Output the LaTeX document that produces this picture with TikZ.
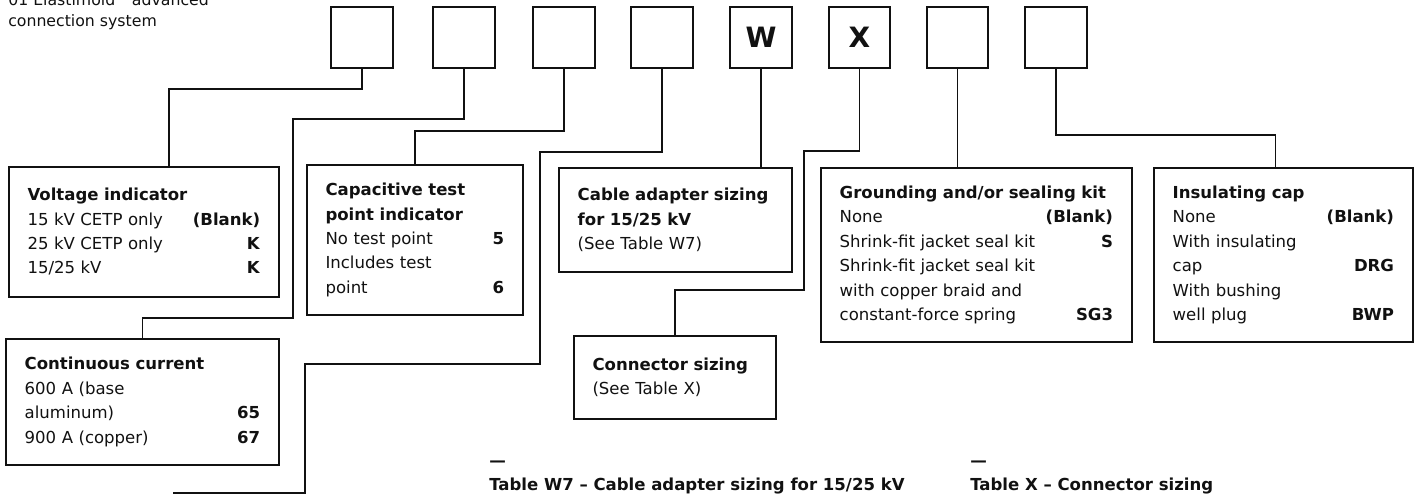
\documentclass[tikz,border=0pt]{standalone}
\usepackage{fontspec}
\setmainfont{DejaVu Sans}
\usetikzlibrary{calc}
\definecolor{inkblack}{HTML}{111111}

\newcommand{\bodyfont}{\fontsize{12.4pt}{18.3pt}\selectfont}
\newcommand{\titlefont}{\fontsize{11.8pt}{15.75pt}\selectfont}
\newcommand{\slotfont}{\fontsize{21pt}{21pt}\selectfont\bfseries}
\newcommand{\optrow}[2]{#1\hfill\textbf{#2}}

\begin{document}
\begin{tikzpicture}[
    x=0.75pt, y=-0.75pt,
    every node/.style={text=inkblack, font=\bodyfont},
    slot/.style={draw=inkblack, line width=1.3pt, minimum width=46pt,
      minimum height=45.75pt, inner sep=0pt, font=\slotfont},
    optbox/.style={draw=inkblack, line width=1.3pt, anchor=north west,
      align=left, inner xsep=14pt, inner ysep=0pt},
    link/.style={draw=inkblack, line width=1.1pt},
    caption/.style={anchor=base west, inner sep=0pt, font=\bodyfont\bfseries},
  ]

  \useasboundingbox (0,0) rectangle (1421,497);

  % ===== Series name =====
  \node[anchor=south west, inner sep=0pt, align=left, font=\titlefont]
    (series) at (8,30) {01 Elastimold\textsuperscript{®} advanced\\connection system};

  % ===== Catalog number slots =====
  \node[slot] (s1) at (362,37.5) {};
  \node[slot] (s2) at (464,37.5) {};
  \node[slot] (s3) at (564,37.5) {};
  \node[slot] (s4) at (662,37.5) {};
  \node[slot] (sW) at (761,37.5) {W};
  \node[slot] (sX) at (859.5,37.5) {X};
  \node[slot] (s7) at (957.5,37.5) {};
  \node[slot] (s8) at (1056,37.5) {};

  % ===== Option boxes =====
  \node[optbox, minimum width=202.5pt, text width=174.5pt, minimum height=97.5pt]
    (volt) at (8,166)
    {\textbf{Voltage indicator}\\
     \optrow{15 kV CETP only}{(Blank)}\\
     \optrow{25 kV CETP only}{K}\\
     \optrow{15/25 kV}{K}};

  \node[optbox, minimum width=162pt, text width=134pt, minimum height=112.5pt]
    (cap) at (306,164)
    {\textbf{Capacitive test}\\
     \textbf{point indicator}\\
     \optrow{No test point}{5}\\
     Includes test\\
     \optrow{point}{6}};

  \node[optbox, minimum width=174.75pt, text width=146.5pt, minimum height=78pt]
    (cable) at (558,167)
    {\textbf{Cable adapter sizing}\\
     \textbf{for 15/25 kV}\\
     (See Table W7)};

  \node[optbox, minimum width=151.5pt, text width=123.5pt, minimum height=62.25pt]
    (conn) at (573,335)
    {\textbf{Connector sizing}\\
     (See Table X)};

  \node[optbox, minimum width=233.25pt, text width=205pt, minimum height=130.5pt]
    (ground) at (820,167)
    {\textbf{Grounding and/or sealing kit}\\
     \optrow{None}{(Blank)}\\
     \optrow{Shrink-fit jacket seal kit}{S}\\
     Shrink-fit jacket seal kit\\
     with copper braid and\\
     \optrow{constant-force spring}{SG3}};

  \node[optbox, minimum width=194.25pt, text width=166pt, minimum height=130.5pt]
    (insul) at (1153,167)
    {\textbf{Insulating cap}\\
     \optrow{None}{(Blank)}\\
     With insulating\\
     \optrow{cap}{DRG}\\
     With bushing\\
     \optrow{well plug}{BWP}};

  \node[optbox, minimum width=204.75pt, text width=176.5pt, minimum height=94.5pt]
    (curr) at (5,338)
    {\textbf{Continuous current}\\
     600 A (base\\
     \optrow{aluminum)}{65}\\
     \optrow{900 A (copper)}{67}};

  % ===== Leader lines =====
  \coordinate (tabref) at (173,493);
  \draw[link] (s1.south) -- ++(0,20) -| ($(volt.north)+(25,0)$);
  \draw[link] (s2.south) -- ++(0,50) -| (293,318) -| (curr.north);
  \draw[link] (s3.south) -- ++(0,62) -| (cap.north);
  \draw[link] (s4.south) -- ++(0,83) -| (540,364) -| (305,493) -- (tabref);
  \draw[link] (sW.south) -- (sW.south |- cable.north);
  \draw[link] (sX.south) -- ++(0,82) -| (804,290) -| (conn.north);
  \draw[link] (s7.south) -- (s7.south |- ground.north);
  \draw[link] (s8.south) -- ++(0,66) -| ($(insul.north)+(-8,0)$);

  % ===== Table headings =====
  \node[caption] (dashW) at (489,466) {—};
  \node[caption] (tabW) at (489,490) {Table W7 – Cable adapter sizing for 15/25 kV};
  \node[caption] (dashX) at (970,466) {—};
  \node[caption] (tabX) at (970,490) {Table X – Connector sizing};

\end{tikzpicture}
\end{document}
